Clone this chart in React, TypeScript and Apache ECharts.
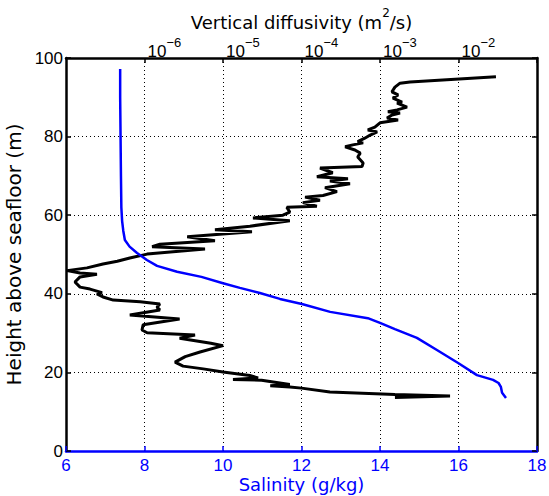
import React, { useEffect, useRef } from "react";
import * as echarts from "echarts";

// Salinity profile (g/kg) vs height above seafloor (m)
const salinity = [7.38, 7.38, 7.39, 7.40, 7.41, 7.43, 7.46, 7.50, 7.62, 7.81, 8.06, 8.32, 8.83, 9.45, 10.0, 10.43, 10.94, 11.45, 12.01, 12.73, 13.69, 14.0, 14.38, 14.94, 15.45, 15.99, 16.47, 16.88, 17.02, 17.08, 17.11, 17.21];
const salinityHeight = [97.2, 90, 80, 70, 62, 58.5, 56, 53.7, 52, 50.4, 48.6, 47.1, 45.6, 44.3, 42.7, 41.5, 40.2, 38.7, 37.4, 35.4, 33.8, 32.6, 31.0, 28.8, 25.7, 22.4, 19.3, 18.1, 17.3, 16.3, 14.8, 13.5];

// Vertical diffusivity (m^2/s) vs height above seafloor (m)
const diffusivity = [
  1.55e-3, 7.8e-3, 1.55e-3, 2.3e-4, 1.0e-4, 7.1e-5, 4.0e-5, 7.1e-5, 3.1e-5, 1.34e-5,
  2.8e-5, 2.2e-5, 1.0e-5, 5.6e-6, 3.1e-6, 2.45e-6, 3.3e-6, 5.1e-6, 1.0e-5, 7.0e-6,
  2.8e-6, 4.4e-6, 1.08e-6, 9.3e-7, 9.6e-7, 2.8e-6, 6.5e-7, 1.57e-6, 1.44e-6, 1.57e-6,
  8.8e-7, 4.0e-7, 2.96e-7, 2.48e-7, 2.88e-7, 2.02e-7, 1.51e-7, 1.30e-7, 1.51e-7, 2.48e-7,
  1.51e-7, 1.03e-7, 1.85e-7, 2.96e-7, 4.5e-7, 6.5e-7, 1.08e-6, 5.9e-6, 1.25e-6, 1.57e-6,
  7.9e-6, 3.5e-6, 2.34e-5, 7.9e-6, 2.2e-5, 7.1e-5, 2.41e-5, 5.8e-5, 7.1e-5, 6.5e-5,
  1.57e-4, 1.04e-4, 1.72e-4, 1.11e-4, 1.88e-4, 2.83e-4, 1.99e-4, 4.15e-4, 2.3e-4, 3.91e-4,
  1.57e-4, 2.5e-4, 1.72e-4, 5.9e-4, 6.1e-4, 5.2e-4, 5.6e-4, 4.8e-4, 3.6e-4, 4.5e-4,
  6.1e-4, 5.2e-4, 6.4e-4, 7.5e-4, 9.2e-4, 7.0e-4, 8.6e-4, 1.0e-3, 1.70e-3, 1.23e-3,
  1.42e-3, 1.80e-3, 1.26e-3, 1.65e-3, 2.21e-3, 1.65e-3, 1.91e-3, 1.46e-3, 1.70e-3, 1.42e-3,
  1.55e-3, 1.80e-3, 2.41e-3, 3.0e-2,
];
const diffusivityHeight = [
  13.6, 14.0, 14.4, 15.0, 16.0, 16.3, 16.6, 16.9, 18.0, 18.2,
  18.6, 19.2, 20.1, 20.9, 21.6, 22.6, 24.0, 25.2, 26.8, 27.4,
  28.7, 29.5, 30.1, 30.8, 32.1, 33.6, 34.6, 35.9, 36.6, 37.4,
  38.0, 38.4, 39.2, 40.0, 40.3, 41.2, 41.7, 43.0, 44.3, 45.0,
  45.3, 45.9, 46.6, 47.6, 48.3, 49.1, 50.1, 51.4, 52.0, 52.6,
  53.5, 54.5, 55.8, 56.3, 57.2, 58.6, 59.3, 60.0, 60.8, 62.0,
  62.3, 63.2, 63.8, 64.6, 65.0, 66.0, 67.0, 68.0, 68.7, 69.3,
  69.8, 70.8, 72.0, 72.4, 73.3, 74.8, 75.8, 76.6, 77.4, 77.9,
  78.4, 78.7, 79.6, 80.4, 81.2, 81.7, 82.4, 83.5, 84.2, 84.7,
  85.5, 86.0, 86.3, 86.8, 87.5, 88.5, 88.8, 89.8, 90.6, 91.4,
  92.6, 93.6, 93.9, 95.2,
];

const salinityTicks = { min: 6, max: 18, interval: 2 };
const heightTicks = { min: 0, max: 100, interval: 20 };
const diffusivityRange = { min: 1e-7, max: 1e-1 };

const BLUE = "#0000ff";
const TICK_FONT = "Liberation Sans";
const NAME_FONT = "DejaVu Sans";

export default function App() {
  const ref = useRef<HTMLDivElement>(null);

  useEffect(() => {
    if (!ref.current) return;
    const chart = echarts.init(ref.current, undefined, { renderer: "svg" });
    const dotted = { color: "#000", width: 1, type: [1, 3] as any };

    chart.setOption({
      animation: false,
      backgroundColor: "#fff",
      grid: { left: 66, right: 12, top: 58, bottom: 45, containLabel: false, outerBoundsMode: "none" },
      xAxis: [
        {
          type: "value",
          position: "bottom",
          min: salinityTicks.min,
          max: salinityTicks.max,
          interval: salinityTicks.interval,
          axisLine: { show: true, onZero: false, lineStyle: { color: BLUE, width: 2.5 } },
          axisTick: { show: true, inside: true, length: 5, lineStyle: { color: BLUE, width: 1.5 } },
          axisLabel: { color: BLUE, fontSize: 17, fontFamily: TICK_FONT, margin: 6 },
          splitLine: { show: true, lineStyle: dotted },
          name: "Salinity (g/kg)",
          nameLocation: "middle",
          nameMoveOverlap: false,
          nameGap: 24,
          nameTextStyle: { color: BLUE, fontSize: 18, fontFamily: NAME_FONT },
        },
        {
          type: "log",
          logBase: 10,
          position: "top",
          min: diffusivityRange.min,
          max: diffusivityRange.max,
          splitNumber: 6,
          axisLine: { show: true, onZero: false, lineStyle: { color: "#000", width: 2.5 } },
          axisTick: { show: true, inside: true, length: 5, lineStyle: { color: "#000", width: 1.5 } },
          splitLine: { show: false },
          axisLabel: {
            showMinLabel: false,
            showMaxLabel: false,
            margin: -2,
            align: "left",
            padding: [0, 0, 0, 3],
            formatter: (v: number) => {
              const e = Math.round(Math.log10(v));
              if (e <= -7 || e >= -1) return "";
              return `{b|10}{s|\u2212${Math.abs(e)}}`;
            },
            rich: {
              b: { fontSize: 17, fontFamily: TICK_FONT, color: "#000", lineHeight: 24, verticalAlign: "bottom" },
              s: { fontSize: 13, fontFamily: TICK_FONT, color: "#000", verticalAlign: "top" },
            },
          },
          name: "{n|Vertical diffusivity (m}{s|2}{n|/s)}",
          nameLocation: "middle",
          nameGap: 24,
          nameTextStyle: {
            rich: {
              n: { fontSize: 18, fontFamily: NAME_FONT, color: "#000", lineHeight: 24, verticalAlign: "bottom" },
              s: { fontSize: 12, fontFamily: NAME_FONT, color: "#000", verticalAlign: "top" },
            },
          },
        },
      ],
      yAxis: [
        {
          type: "value",
          position: "left",
          min: heightTicks.min,
          max: heightTicks.max,
          interval: heightTicks.interval,
          axisLine: { show: true, onZero: false, lineStyle: { color: "#000", width: 2.5 } },
          axisTick: { show: true, inside: true, length: 5, lineStyle: { color: "#000", width: 1.5 } },
          axisLabel: { color: "#000", fontSize: 17, fontFamily: TICK_FONT, margin: 3 },
          splitLine: { show: true, lineStyle: dotted },
          name: "Height above seafloor (m)",
          nameLocation: "middle",
          nameGap: 41,
          nameTextStyle: { color: "#000", fontSize: 20, fontFamily: NAME_FONT },
        },
        {
          type: "value",
          position: "right",
          min: heightTicks.min,
          max: heightTicks.max,
          interval: heightTicks.interval,
          axisLine: { show: true, onZero: false, lineStyle: { color: "#000", width: 2.5 } },
          axisTick: { show: true, inside: true, length: 5, lineStyle: { color: "#000", width: 1.5 } },
          axisLabel: { show: false },
          splitLine: { show: false },
        },
      ],
      series: [
        {
          type: "line",
          xAxisIndex: 1,
          yAxisIndex: 0,
          showSymbol: false,
          symbol: "none",
          lineStyle: { color: "#000", width: 3 },
          data: diffusivity.map((k, i) => [k, diffusivityHeight[i]]),
          z: 2,
        },
        {
          type: "line",
          xAxisIndex: 0,
          yAxisIndex: 0,
          showSymbol: false,
          symbol: "none",
          lineStyle: { color: BLUE, width: 2.5 },
          data: salinity.map((s, i) => [s, salinityHeight[i]]),
          z: 3,
        },
      ],
    });
    return () => chart.dispose();
  }, []);

  return (
    <div
      ref={ref}
      style={{ position: "fixed", left: 0, top: 0, width: 549, height: 496, background: "#fff" }}
    />
  );
}
